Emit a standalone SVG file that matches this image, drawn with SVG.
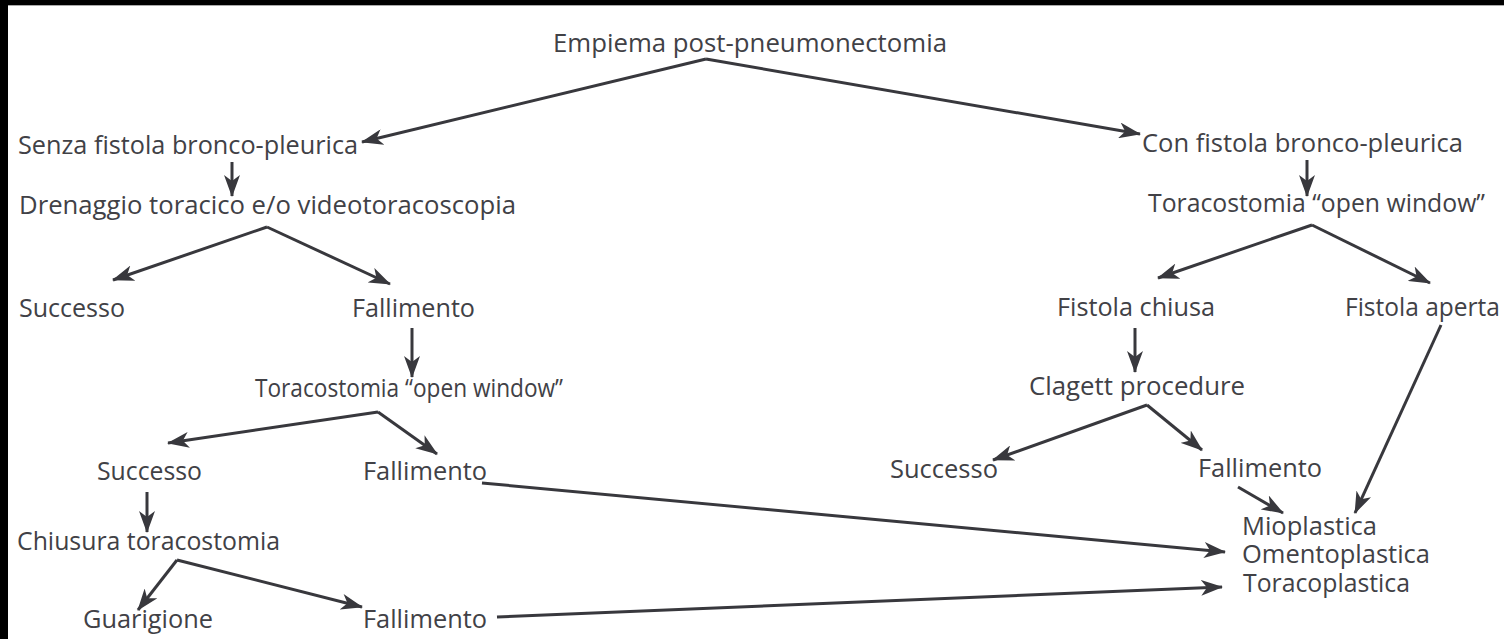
<svg xmlns="http://www.w3.org/2000/svg" width="1504" height="639" viewBox="0 0 1504 639">
<style>
text{font-family:"Open Sans","Noto Sans","DejaVu Sans",sans-serif;font-size:25px;fill:#414146;}
.c line{stroke:#38383d;stroke-width:3;fill:none;marker-end:url(#ah);}
</style>
<defs>
<marker id="ah" viewBox="0 0 22 16" refX="21" refY="8" markerWidth="22" markerHeight="16" markerUnits="userSpaceOnUse" orient="auto">
<path d="M0,0 L22,8 L0,16 L6,8 Z" fill="#38383d"/>
</marker>
</defs>
<rect x="0" y="0" width="1504" height="639" fill="#ffffff"/>
<rect x="0" y="0" width="1504" height="5" fill="#000"/>
<rect x="0" y="0" width="8" height="639" fill="#000"/>
<rect x="8" y="5" width="1496" height="1" fill="#aaa"/>

<g id="n-empiema"><text x="553" y="52" textLength="394" lengthAdjust="spacingAndGlyphs">Empiema post-pneumonectomia</text></g>
<g id="n-senza"><text x="18" y="154" textLength="340" lengthAdjust="spacingAndGlyphs">Senza fistola bronco-pleurica</text></g>
<g id="n-con"><text x="1142" y="152" textLength="321" lengthAdjust="spacingAndGlyphs">Con fistola bronco-pleurica</text></g>
<g id="n-drenaggio"><text x="19" y="214" textLength="497" lengthAdjust="spacingAndGlyphs">Drenaggio toracico e/o videotoracoscopia</text></g>
<g id="n-tor-r"><text x="1148" y="212" textLength="337" lengthAdjust="spacingAndGlyphs">Toracostomia “open window”</text></g>
<g id="n-succ1"><text x="19" y="317" textLength="106" lengthAdjust="spacingAndGlyphs">Successo</text></g>
<g id="n-fall1"><text x="352" y="317" textLength="123" lengthAdjust="spacingAndGlyphs">Fallimento</text></g>
<g id="n-fchiusa"><text x="1057" y="316" textLength="158" lengthAdjust="spacingAndGlyphs">Fistola chiusa</text></g>
<g id="n-faperta"><text x="1345" y="316" textLength="155" lengthAdjust="spacingAndGlyphs">Fistola aperta</text></g>
<g id="n-tor-l"><text x="255" y="397" textLength="308" lengthAdjust="spacingAndGlyphs">Toracostomia “open window”</text></g>
<g id="n-clagett"><text x="1029" y="395" textLength="216" lengthAdjust="spacingAndGlyphs">Clagett procedure</text></g>
<g id="n-succ2"><text x="97" y="480" textLength="105" lengthAdjust="spacingAndGlyphs">Successo</text></g>
<g id="n-fall2"><text x="363" y="480" textLength="124" lengthAdjust="spacingAndGlyphs">Fallimento</text></g>
<g id="n-succ3"><text x="890" y="478" textLength="108" lengthAdjust="spacingAndGlyphs">Successo</text></g>
<g id="n-fall3"><text x="1198" y="477" textLength="124" lengthAdjust="spacingAndGlyphs">Fallimento</text></g>
<g id="n-plastica">
<text x="1242" y="535" textLength="135" lengthAdjust="spacingAndGlyphs">Mioplastica</text>
<text x="1242" y="563" textLength="188" lengthAdjust="spacingAndGlyphs">Omentoplastica</text>
<text x="1243" y="592" textLength="167" lengthAdjust="spacingAndGlyphs">Toracoplastica</text>
</g>
<g id="n-chiusura"><text x="17" y="550" textLength="263" lengthAdjust="spacingAndGlyphs">Chiusura toracostomia</text></g>
<g id="n-guarigione"><text x="83" y="628" textLength="130" lengthAdjust="spacingAndGlyphs">Guarigione</text></g>
<g id="n-fall4"><text x="363" y="628" textLength="124" lengthAdjust="spacingAndGlyphs">Fallimento</text></g>

<g id="connectors" class="c">
<line x1="706" y1="59" x2="362" y2="142"/>
<line x1="706" y1="59" x2="1140" y2="134"/>
<line x1="232" y1="162" x2="232" y2="196"/>
<line x1="1307" y1="160" x2="1307" y2="196"/>
<line x1="267" y1="227" x2="113" y2="280"/>
<line x1="267" y1="227" x2="390" y2="284"/>
<line x1="412" y1="328" x2="412" y2="377"/>
<line x1="378" y1="412" x2="168" y2="443"/>
<line x1="378" y1="412" x2="437" y2="454"/>
<line x1="147" y1="492" x2="147" y2="532"/>
<line x1="177" y1="560" x2="138" y2="610"/>
<line x1="177" y1="560" x2="362" y2="607"/>
<line x1="482" y1="483" x2="1225" y2="552"/>
<line x1="497" y1="617" x2="1222" y2="587"/>
<line x1="1312" y1="225" x2="1158" y2="278"/>
<line x1="1312" y1="225" x2="1430" y2="283"/>
<line x1="1135" y1="328" x2="1135" y2="372"/>
<line x1="1441" y1="325" x2="1355" y2="513"/>
<line x1="1147" y1="405" x2="993" y2="460"/>
<line x1="1147" y1="405" x2="1202" y2="450"/>
<line x1="1238" y1="487" x2="1283" y2="513"/>
</g>
</svg>
